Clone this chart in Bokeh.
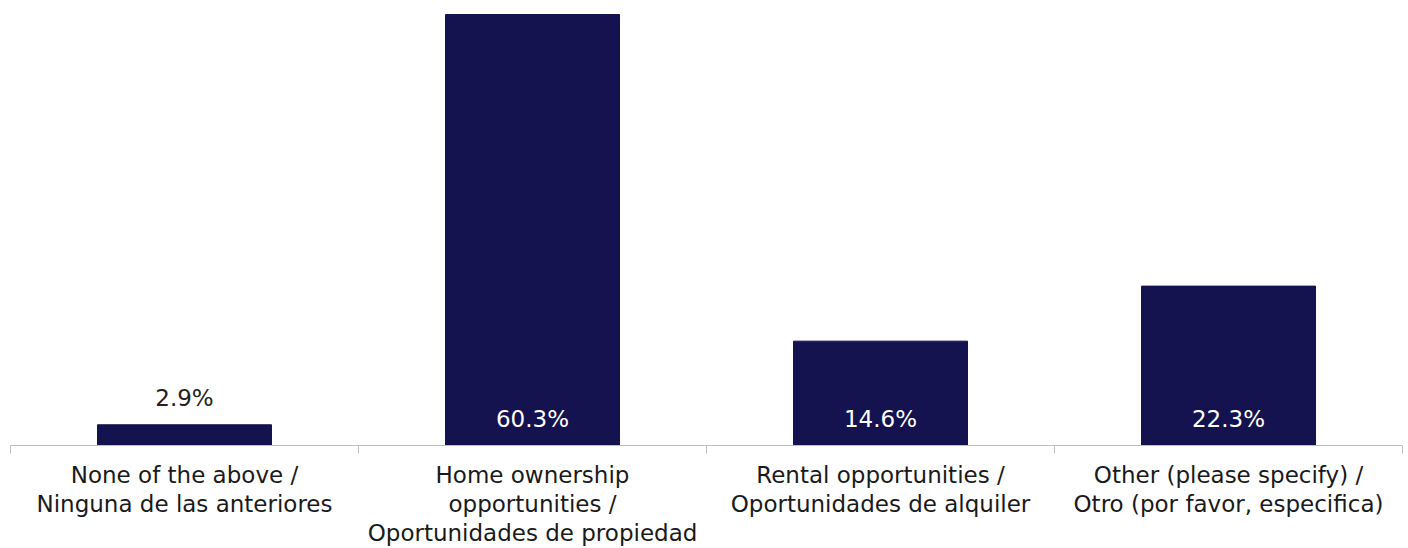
import numpy as np
from bokeh.plotting import figure
from bokeh.models import Range1d, FixedTicker, ColumnDataSource
from bokeh.core.properties import value
from bokeh.embed import file_html
from bokeh.resources import INLINE

categories = [
    "None of the above /\nNinguna de las anteriores",
    "Home ownership\nopportunities /\nOportunidades de propiedad",
    "Rental opportunities /\nOportunidades de alquiler",
    "Other (please specify) /\nOtro (por favor, especifica)",
]
values = [2.9, 60.3, 14.6, 22.3]
value_labels = ["2.9%", "60.3%", "14.6%", "22.3%"]

BAR = "#14124f"
FONT = "DejaVu Sans"

n = len(categories)
xc = np.arange(n) + 0.5

p = figure(width=1408, height=548, output_backend="svg", toolbar_location=None,
           x_range=Range1d(0, n), y_range=Range1d(0, 62.26),
           min_border_left=10, min_border_right=6, min_border_top=0, min_border_bottom=0)
p.outline_line_color = None
p.background_fill_color = "white"
p.border_fill_color = "white"
p.grid.visible = False
p.yaxis.visible = False

p.vbar(x=xc, top=values, width=0.5, bottom=0, fill_color=BAR, line_color=BAR)

inside = [v >= 5 for v in values]
src = ColumnDataSource(dict(
    x=xc,
    y=[0 if ins else v for ins, v in zip(inside, values)],
    t=value_labels,
    c=["white" if ins else "#222222" for ins in inside],
))
p.text(x="x", y="y", text="t", source=src, text_color="c",
       text_align="center", text_baseline="middle", y_offset=-27,
       text_font=value(FONT), text_font_size="23px")

ax = p.xaxis[0]
ax.ticker = FixedTicker(ticks=list(xc), minor_ticks=list(range(n + 1)))
ax.major_label_overrides = {float(x): c for x, c in zip(xc, categories)}
ax.major_tick_out = 0
ax.major_tick_in = 0
ax.minor_tick_out = 8
ax.minor_tick_in = 0
ax.minor_tick_line_color = "#bfbfbf"
ax.axis_line_color = "#bfbfbf"
ax.axis_line_width = 1
ax.major_label_text_font = FONT
ax.major_label_text_font_size = "23px"
ax.major_label_text_color = "#1a1a1a"
ax.major_label_text_line_height = 1.12
ax.major_label_standoff = 8

open("out.html", "w").write(file_html(p, INLINE))
